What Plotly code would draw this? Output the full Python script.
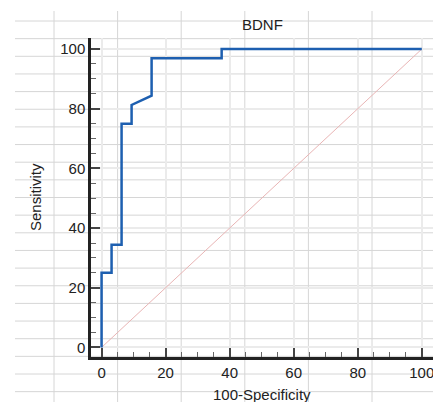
import plotly.graph_objects as go

# ROC curve data (100-Specificity vs Sensitivity)
fpr = [0, 0, 3.125, 3.125, 6.25, 6.25, 9.375, 9.375, 15.625, 15.625, 37.5, 37.5, 100]
tpr = [0, 25, 25, 34.375, 34.375, 75, 75, 81.25, 84.375, 96.875, 96.875, 100, 100]
diag_x = [0, 100]
diag_y = [0, 100]
tick_vals = [0, 20, 40, 60, 80, 100]

W, H = 433, 402
L, R, T, B = 91, 433, 38, 357  # plot area in pixels

fig = go.Figure()
fig.add_trace(go.Scatter(x=diag_x, y=diag_y, mode="lines",
                         line=dict(color="#e9b5b5", width=1), hoverinfo="skip"))
fig.add_trace(go.Scatter(x=fpr, y=tpr, mode="lines",
                         line=dict(color="#1d5fb0", width=2.5)))

# decorative background ruled grid (scan artefact) in paper coordinates
def px2x(p):
    return (p - L) / (R - L)

def py2y(p):
    return (B - p) / (B - T)

shapes = []
for k in range(6):
    xp = 54 + 63.6 * k
    shapes.append(dict(type="line", xref="paper", yref="paper",
                       x0=px2x(xp), x1=px2x(xp), y0=py2y(11), y1=py2y(402),
                       line=dict(color="#d6d6d6", width=1), layer="below"))
for k in range(22):
    yp = 21 + 17.65 * k
    shapes.append(dict(type="line", xref="paper", yref="paper",
                       x0=px2x(15), x1=px2x(433), y0=py2y(yp), y1=py2y(yp),
                       line=dict(color="#d6d6d6", width=1), layer="below"))

font = "Liberation Sans, Arial, sans-serif"
tfont = dict(family=font, size=15, color="#222222")
axis_common = dict(
    showline=True, linecolor="#222222", linewidth=2.5,
    ticks="inside", ticklen=9, tickwidth=1.5, tickcolor="#444444",
    tickvals=tick_vals, showgrid=True, gridcolor="#ebebeb", gridwidth=2,
    zeroline=False, tickfont=tfont, automargin=False,
    ticklabeloverflow="allow",
    minor=dict(ticks="inside", ticklen=5, tickwidth=1, tickcolor="#666666",
               dtick=5, showgrid=False),
)

annotations = [
    dict(text="100-Specificity", xref="paper", yref="paper",
         x=px2x(262), y=py2y(394), xanchor="center", yanchor="middle",
         showarrow=False, font=tfont),
    dict(text="Sensitivity", xref="paper", yref="paper",
         x=px2x(35), y=py2y(197), xanchor="center", yanchor="middle",
         textangle=-90, showarrow=False, font=tfont),
    dict(text="BDNF", xref="paper", yref="paper",
         x=px2x(262), y=py2y(25), xanchor="center", yanchor="middle",
         showarrow=False, font=tfont),
]

fig.update_layout(
    width=W, height=H,
    margin=dict(l=L, r=W - R, t=T, b=H - B, autoexpand=False),
    paper_bgcolor="white", plot_bgcolor="rgba(0,0,0,0)",
    showlegend=False,
    shapes=shapes,
    annotations=annotations,
    xaxis=dict(range=[-3.3, 103.5], **axis_common),
    yaxis=dict(range=[-3.2, 103.7], **axis_common),
)

fig.write_html("out.html", config={"displayModeBar": False},
               post_script="document.body.style.margin='0';document.body.style.overflow='hidden';")
